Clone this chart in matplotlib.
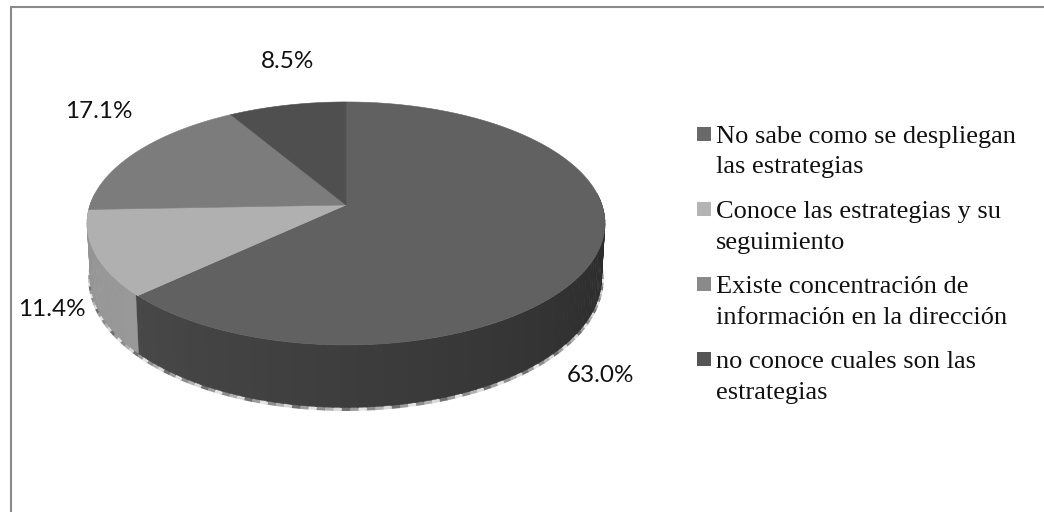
import numpy as np
import matplotlib
matplotlib.use('Agg')
import matplotlib.pyplot as plt
from matplotlib.patches import Rectangle

categories = ['No sabe como se despliegan\nlas estrategias',
              'Conoce las estrategias y su\nseguimiento',
              'Existe concentración de\ninformación en la dirección',
              'no conoce cuales son las\nestrategias']
values = [63.0, 11.4, 17.1, 8.5]
top_colors = ['#616161', '#b0b0b0', '#7c7c7c', '#4f4f4f']
legend_colors = ['#696969', '#b4b4b4', '#8a8a8a', '#555555']
label_pos = [(600, 375), (52, 310), (99, 111), (288, 61)]

# screen projection of the tilted disc
cx, cy = 346, 205
a, b, k = 256, 118.7, 0.152
depth = 53


def project(theta, r=1.0, z=0.0, shrink=1.0):
    x = r * np.sin(theta)
    y = r * np.cos(theta)
    w = 1 + k * y
    return cx + shrink * a * x / w, cy + (-b * y + z) / w


fig = plt.figure(figsize=(10.44, 5.12), dpi=100)
ax = fig.add_axes([0, 0, 1, 1])
ax.set_xlim(0, 1044)
ax.set_ylim(512, 0)
ax.axis('off')

# chart frame: only the top and left sides show
ax.plot([11, 11, 1044], [512, 7, 7], color='#8a8a8a', lw=1.5, solid_joinstyle='miter')

edges = np.cumsum([0] + values) / 100 * 2 * np.pi

# side wall, only the front half is visible
wall_start = np.pi / 2 - 0.1
wall_end = 3 * np.pi / 2 + 0.1
steps = np.linspace(wall_start, wall_end, 120)
rim_shades = ['#d8d8d8', '#b0b0b0', '#8c8c8c', '#e4e4e4', '#9c9c9c', '#707070']
for i, (t0, t1) in enumerate(zip(steps[:-1], steps[1:])):
    tm = (t0 + t1) / 2
    f = (tm - wall_start) / (wall_end - wall_start)
    if tm < edges[1]:
        g = 0.155 + 0.17 * f
    else:
        g = 0.60 + 0.1 * (0.75 - f)
    tt = np.array([t0, t1 + 0.004])
    x0, y0 = project(tt)
    x1, y1 = project(tt[::-1], z=depth, shrink=0.987)
    ax.fill(np.r_[x0, x1], np.r_[y0, y1], color=str(g), lw=0.3, zorder=2)
    # rough light rim under the wall
    xr, yr = project(tt, z=depth + 1.2, shrink=0.987)
    ax.plot(xr, yr, color=rim_shades[i % 6], lw=3.0, solid_capstyle='butt', zorder=1)

# top face
for t0, t1, c in zip(edges[:-1], edges[1:], top_colors):
    t = np.linspace(t0, t1, 200)
    x, y = project(t)
    ax.fill(np.r_[cx, x], np.r_[cy, y], color=c, lw=0.4, zorder=3)

for v, (lx, ly) in zip(values, label_pos):
    ax.text(lx, ly, f'{v:.1f}%', ha='center', va='center', fontsize=17.5,
            family='Lato', color='#111111')

# legend
for i, (name, c) in enumerate(zip(categories, legend_colors)):
    y = 127 + 75 * i
    ax.add_patch(Rectangle((697, y), 14, 14, fc=c, ec='none'))
    ax.text(716, y - 1, name, ha='left', va='top', fontsize=19,
            family='Liberation Serif', color='#111111', linespacing=1.5)

fig.savefig('out.png', dpi=100)
